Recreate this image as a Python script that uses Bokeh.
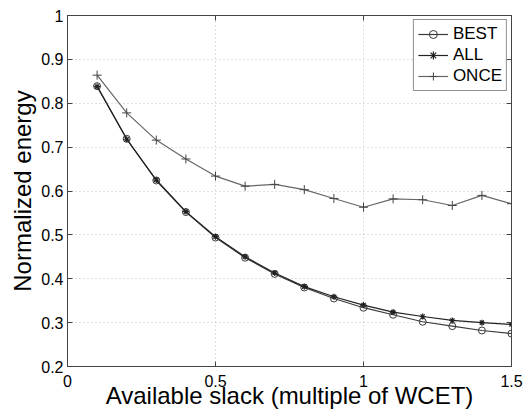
from bokeh.plotting import figure
from bokeh.models import FixedTicker, LinearAxis, Range1d, Legend
from bokeh.embed import file_html
from bokeh.resources import INLINE

# ---- data ----
slack = [0.1, 0.2, 0.3, 0.4, 0.5, 0.6, 0.7, 0.8, 0.9, 1.0, 1.1, 1.2, 1.3, 1.4, 1.5]
best = [0.839, 0.719, 0.624, 0.552, 0.494, 0.448, 0.411, 0.380, 0.355, 0.334, 0.318, 0.302, 0.292, 0.282, 0.275]
all_ = [0.838, 0.718, 0.625, 0.553, 0.496, 0.450, 0.413, 0.382, 0.359, 0.340, 0.324, 0.314, 0.305, 0.300, 0.296]
once = [0.864, 0.778, 0.716, 0.673, 0.634, 0.611, 0.615, 0.603, 0.583, 0.563, 0.582, 0.580, 0.567, 0.590, 0.571]

x_ticks = [0, 0.5, 1, 1.5]
x_tick_labels = ["0", "0.5", "1", "1.5"]
y_ticks = [0.2, 0.3, 0.4, 0.5, 0.6, 0.7, 0.8, 0.9, 1.0]
y_tick_labels = ["0.2", "0.3", "0.4", "0.5", "0.6", "0.7", "0.8", "0.9", "1"]

FONT = "Liberation Sans"
AXC = "#444444"

p = figure(frame_width=444, frame_height=351,
           min_border_left=67, min_border_right=13, min_border_top=15, min_border_bottom=44,
           x_range=Range1d(0, 1.5), y_range=Range1d(0.2, 1.0),
           output_backend="svg", toolbar_location=None,
           x_axis_label="Available slack (multiple of WCET)",
           y_axis_label="Normalized energy")
p.background_fill_color = "white"
p.border_fill_color = "white"
p.outline_line_color = AXC
p.outline_line_width = 1

for ax, ticks, labels in ((p.xaxis[0], x_ticks, x_tick_labels), (p.yaxis[0], y_ticks, y_tick_labels)):
    ax.ticker = FixedTicker(ticks=ticks)
    ax.major_label_overrides = {t: l for t, l in zip(ticks, labels)}
    ax.major_tick_in = 5
    ax.major_tick_out = 0
    ax.minor_tick_in = 0
    ax.minor_tick_out = 0
    ax.axis_line_color = AXC
    ax.major_tick_line_color = AXC
    ax.major_label_text_font = FONT
    ax.major_label_text_font_size = "16px"
    ax.major_label_text_color = "black"
    ax.axis_label_text_font = FONT
    ax.axis_label_text_font_size = "24px"
    ax.axis_label_text_font_style = "normal"
    ax.axis_label_text_color = "black"

p.xaxis[0].major_label_standoff = 8
p.xaxis[0].axis_label_standoff = -8
p.yaxis[0].major_label_standoff = 4
p.yaxis[0].axis_label_standoff = 2

# mirrored axes (ticks only)
top = LinearAxis(ticker=FixedTicker(ticks=x_ticks), major_label_text_alpha=0,
                 major_label_text_font_size="1px", major_tick_in=5, major_tick_out=0,
                 minor_tick_in=0, minor_tick_out=0, axis_line_color=AXC, major_tick_line_color=AXC,
                 major_label_standoff=0)
right = LinearAxis(ticker=FixedTicker(ticks=y_ticks), major_label_text_alpha=0,
                   major_label_text_font_size="1px", major_tick_in=5, major_tick_out=0,
                   minor_tick_in=0, minor_tick_out=0, axis_line_color=AXC, major_tick_line_color=AXC,
                   major_label_standoff=0)
p.add_layout(top, "above")
p.add_layout(right, "right")

p.xgrid.ticker = FixedTicker(ticks=x_ticks)
p.ygrid.ticker = FixedTicker(ticks=y_ticks)
for g in (p.xgrid[0], p.ygrid[0]):
    g.grid_line_color = "#c0c0c0"
    g.grid_line_dash = "1 3"
    g.grid_line_width = 1

r1 = p.line(slack, best, line_color="#3a3a3a", line_width=1.2)
m1 = p.scatter(slack, best, marker="circle", size=7, fill_color=None, line_color="#3a3a3a", line_width=1)
r2 = p.line(slack, all_, line_color="#222222", line_width=1.2)
m2 = p.scatter(slack, all_, marker="asterisk", size=6, line_color="#222222", line_width=1.2)
r3 = p.line(slack, once, line_color="#666666", line_width=1.2)
m3 = p.scatter(slack, once, marker="cross", size=9, line_color="#444444", line_width=1)

legend = Legend(items=[("BEST", [r1, m1]), ("ALL", [r2, m2]), ("ONCE", [r3, m3])],
                location="top_right")
legend.label_text_font = FONT
legend.label_text_font_size = "17px"
legend.label_text_color = "black"
legend.border_line_color = "#222222"
legend.border_line_width = 1
legend.background_fill_alpha = 1
legend.glyph_width = 30
legend.glyph_height = 20
legend.label_height = 20
legend.label_standoff = 5
legend.spacing = 1
legend.padding = 4
legend.margin = 4
p.add_layout(legend, "center")

open("out.html", "w").write(file_html(p, INLINE))
